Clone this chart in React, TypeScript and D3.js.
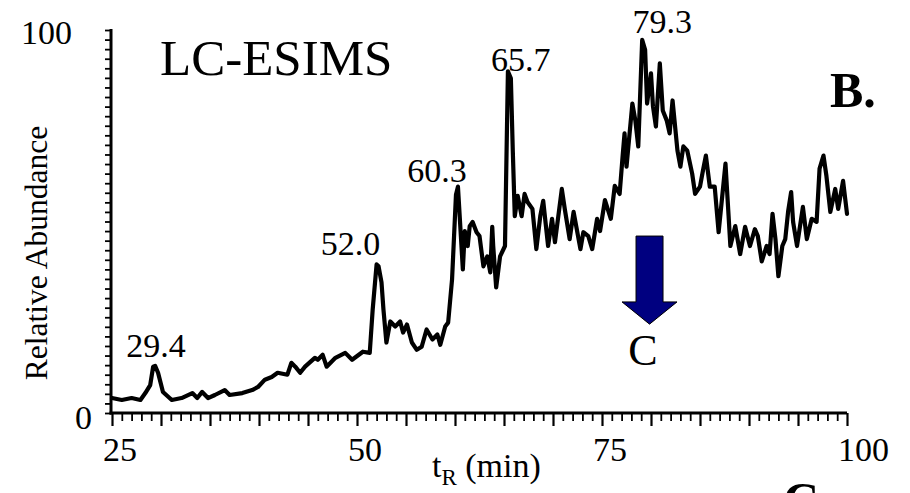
import * as d3 from 'd3'
import React from 'react'

// retention time (min) and relative abundance
const retentionTimes = [
  25.0, 26.0, 27.0, 27.9, 28.4, 28.9, 29.2, 29.4, 29.7, 30.2, 31.1, 32.1, 33.2, 33.7, 34.2, 34.8,
  35.5, 36.5, 37.0, 38.3, 39.3, 39.9, 40.6, 41.3, 41.9, 42.9, 43.3, 43.7, 44.2, 44.7, 45.7, 46.0,
  46.5, 46.9, 47.8, 48.8, 49.5, 50.6, 51.3, 51.6, 52.0, 52.2, 52.5, 52.7, 53.0, 53.4, 53.9, 54.4,
  54.7, 55.1, 55.6, 56.1, 56.6, 57.1, 57.7, 58.2, 58.5, 59.0, 59.3, 59.7, 60.1, 60.3, 60.6, 60.8,
  61.0, 61.3, 61.5, 61.8, 62.2, 62.5, 62.9, 63.3, 63.6, 63.8, 63.9, 64.2, 64.6, 65.1, 65.4, 65.7,
  65.9, 66.1, 66.4, 66.8, 67.1, 67.4, 67.9, 68.3, 68.7, 69.0, 69.5, 69.9, 70.2, 70.9, 71.2, 71.7,
  72.1, 72.8, 73.1, 73.6, 74.0, 74.5, 74.8, 75.3, 75.9, 76.3, 76.8, 77.1, 77.3, 77.5, 78.1, 78.4,
  78.7, 79.1, 79.4, 79.6, 80.0, 80.2, 80.5, 80.9, 81.2, 81.6, 81.9, 82.2, 82.7, 83.0, 83.3, 83.7,
  84.2, 84.5, 85.0, 85.3, 85.6, 86.0, 86.5, 86.9, 87.6, 88.1, 88.6, 89.1, 89.6, 90.1, 90.6, 90.9,
  91.3, 91.8, 92.1, 92.4, 92.7, 93.0, 93.4, 93.7, 94.0, 94.3, 94.5, 94.9, 95.5, 95.9, 96.4, 96.9,
  97.2, 97.6, 97.9, 98.3, 98.8, 99.1, 99.6, 100.0,
]
const abundances = [
  3.9, 3.4, 3.9, 3.4, 5.2, 7.3, 12.1, 12.3, 10.5, 5.5, 3.4, 3.9, 5.2, 3.9, 5.5, 3.9,
  4.7, 6.0, 4.7, 5.2, 6.0, 6.8, 8.7, 9.4, 10.5, 10.0, 13.1, 12.1, 10.5, 12.1, 14.4, 13.9,
  15.2, 12.1, 14.4, 15.7, 13.9, 16.0, 15.7, 27.0, 38.8, 38.3, 34.1, 27.0, 18.4, 23.9, 22.6, 23.9,
  21.0, 23.1, 18.4, 16.5, 17.3, 21.8, 19.2, 20.5, 17.8, 22.6, 23.6, 34.9, 57.0, 59.1, 46.2, 37.5,
  47.5, 43.6, 48.8, 49.9, 47.2, 46.2, 38.3, 40.9, 36.7, 48.6, 43.6, 32.8, 40.9, 43.6, 89.2, 87.4,
  68.2, 51.4, 56.7, 51.4, 57.2, 55.1, 53.3, 42.8, 51.4, 55.4, 43.6, 50.7, 44.6, 58.5, 53.3, 45.4,
  52.5, 42.8, 47.2, 46.2, 42.8, 50.7, 47.5, 55.6, 50.7, 59.3, 57.2, 66.9, 73.0, 64.3, 80.8, 76.4,
  69.6, 97.4, 94.8, 80.8, 88.7, 80.1, 74.8, 91.3, 79.0, 76.4, 73.0, 81.6, 68.5, 64.3, 69.6, 68.5,
  62.5, 57.2, 59.1, 63.3, 67.2, 59.1, 59.1, 47.2, 65.1, 43.6, 48.8, 41.5, 48.6, 43.6, 48.0, 46.2,
  39.6, 43.6, 41.5, 52.0, 45.4, 35.7, 43.6, 45.4, 52.8, 57.7, 49.9, 43.6, 53.8, 45.4, 50.7, 49.9,
  63.8, 67.2, 61.9, 52.5, 58.5, 53.3, 60.6, 52.0,
]

// labelled peaks
const peakTimes = [29.4, 52.0, 60.3, 65.7, 79.3]
const peakLabels = ['29.4', '52.0', '60.3', '65.7', '79.3']

const xTickLabels = [25, 50, 75, 100]
const yTickLabels = [0, 100]

// fraction collected (arrow to panel C)
const fractionTime = 79.85
const fractionLabel = 'C'

export default function App() {
  const ref = React.useRef<SVGSVGElement>(null)

  React.useEffect(() => {
    document.body.style.margin = '0'
    drawChart()
  })

  function drawChart() {
    const width = 910
    const height = 493
    const font = "'Liberation Serif', 'Times New Roman', serif"
    const svg = d3.select(ref.current)
    svg.selectAll('*').remove()
    svg.attr('width', width).attr('height', height).style('font-family', font)

    const x = d3.scaleLinear().domain([25, 100]).range([112, 847])
    const y = d3.scaleLinear().domain([0, 100]).range([413, 30])

    // y axis: minor ticks every 2.5
    const yAxis = svg.append('g')
      .attr('transform', `translate(${x(25) - 1},0)`)
      .call(d3.axisLeft(y).tickValues(d3.range(0, 100.1, 2.5)).tickSize(6).tickFormat(() => ''))
    yAxis.select('.domain').remove()
    yAxis.selectAll('line').attr('stroke', '#000').attr('stroke-width', 1.8)

    // x axis: minor every 1, major every 5
    const xMinor = svg.append('g')
      .attr('transform', `translate(0,${y(0)})`)
      .call(d3.axisBottom(x).tickValues(d3.range(25, 100.1, 1).filter(d => d % 5 !== 0)).tickSize(8).tickFormat(() => ''))
    xMinor.select('.domain').remove()
    xMinor.selectAll('line').attr('stroke', '#000').attr('stroke-width', 1.8)
    const xMajor = svg.append('g')
      .attr('transform', `translate(0,${y(0)})`)
      .call(d3.axisBottom(x).tickValues(d3.range(25, 100.1, 5)).tickSize(13).tickFormat(() => ''))
    xMajor.select('.domain').remove()
    xMajor.selectAll('line').attr('stroke', '#000').attr('stroke-width', 2.2)

    // axis lines
    svg.append('line')
      .attr('x1', x(25) - 1).attr('x2', x(25) - 1)
      .attr('y1', y(100) - 1).attr('y2', y(0) + 1.5)
      .attr('stroke', '#000').attr('stroke-width', 3)
    svg.append('line')
      .attr('x1', x(25) - 2.5).attr('x2', x(100))
      .attr('y1', y(0)).attr('y2', y(0))
      .attr('stroke', '#000').attr('stroke-width', 3)

    // tick labels
    svg.selectAll('.xlab')
      .data(xTickLabels)
      .enter().append('text')
      .attr('class', 'xlab')
      .attr('x', d => x(d) - 9)
      .attr('y', 461)
      .attr('font-size', 34)
      .text(d => d)
    svg.selectAll('.ylab')
      .data(yTickLabels)
      .enter().append('text')
      .attr('class', 'ylab')
      .attr('text-anchor', 'end')
      .attr('x', d => (d === 0 ? 92 : 72))
      .attr('y', d => y(d) + (d === 0 ? 16 : 14))
      .attr('font-size', 34)
      .text(d => d)

    // axis titles
    svg.append('text')
      .attr('transform', `translate(47,253) rotate(-90)`)
      .attr('text-anchor', 'middle')
      .attr('font-size', 31.5)
      .text('Relative Abundance')
    const xt = svg.append('text')
      .attr('x', 432).attr('y', 477)
      .attr('font-size', 34)
    xt.append('tspan').text('t')
    xt.append('tspan').attr('font-size', 23).attr('dy', 8).text('R')
    xt.append('tspan').attr('dy', -8).text(' (min)')

    // chromatogram trace
    const points = retentionTimes.map((t, i) => [t, abundances[i]] as [number, number])
    const line = d3.line<[number, number]>().x(d => x(d[0])).y(d => y(d[1]))
    svg.append('path')
      .datum(points)
      .attr('d', line)
      .attr('fill', 'none')
      .attr('stroke', '#000')
      .attr('stroke-width', 4.2)
      .attr('stroke-linejoin', 'round')
      .attr('stroke-linecap', 'round')

    // peak labels
    const dx = [1, -26, -21, 10, 18]
    const baseY = [357, 255, 182, 71, 33]
    svg.selectAll('.peak')
      .data(peakTimes)
      .enter().append('text')
      .attr('class', 'peak')
      .attr('text-anchor', 'middle')
      .attr('x', (d, i) => x(d) + dx[i])
      .attr('y', (d, i) => baseY[i])
      .attr('font-size', 34)
      .text((d, i) => peakLabels[i])

    // titles
    svg.append('text')
      .attr('x', 160).attr('y', 75)
      .attr('font-size', 51)
      .text('LC-ESIMS')
    svg.append('text')
      .attr('x', 830).attr('y', 107)
      .attr('font-size', 50)
      .attr('font-weight', 'bold')
      .text('B.')
    svg.append('text')
      .attr('x', 783).attr('y', 517)
      .attr('font-size', 50)
      .attr('font-weight', 'bold')
      .text('C')

    // arrow to fraction C
    const ax = x(fractionTime)
    const top = y(46.2)
    const neck = y(29)
    const tip = y(23.2)
    const arrow = d3.path()
    arrow.moveTo(ax - 13.5, top)
    arrow.lineTo(ax + 13.5, top)
    arrow.lineTo(ax + 13.5, neck)
    arrow.lineTo(ax + 27.5, neck)
    arrow.lineTo(ax, tip)
    arrow.lineTo(ax - 27.5, neck)
    arrow.lineTo(ax - 13.5, neck)
    arrow.closePath()
    svg.append('path')
      .attr('d', arrow.toString())
      .attr('fill', '#000080')
      .attr('stroke', '#000')
      .attr('stroke-width', 1)
    svg.append('text')
      .attr('x', 643).attr('y', 365)
      .attr('text-anchor', 'middle')
      .attr('font-size', 44)
      .text(fractionLabel)
  }

  return (
    <svg ref={ref} style={{ display: 'block' }}></svg>
  )
}
